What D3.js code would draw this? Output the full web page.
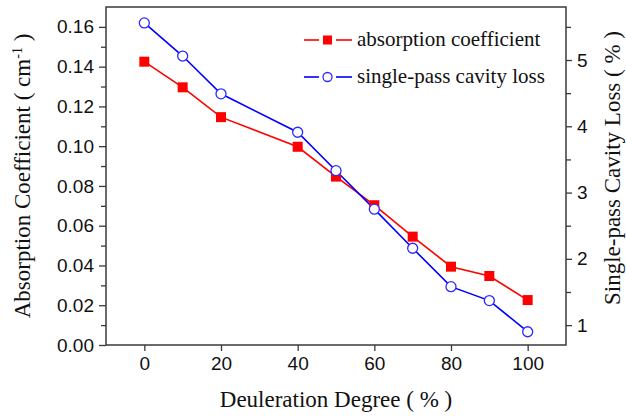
<!DOCTYPE html>
<html>
<head>
<meta charset="utf-8">
<script src="https://cdn.jsdelivr.net/npm/d3@7"></script>
<style>
  body { margin: 0; background: #fff; }
  svg { display: block; }
</style>
</head>
<body>
<div id="chart"></div>
<script>
// deuleration degree (%)
var degree = [0, 10, 20, 40, 50, 60, 70, 80, 90, 100]
// absorption coefficient (cm^-1), left axis
var absorption = [0.1425, 0.1296, 0.1146, 0.0997, 0.0847, 0.0703, 0.0545, 0.0394, 0.0347, 0.0226]
// single-pass cavity loss (%), right axis
var cavityLoss = [5.56, 5.06, 4.49, 3.91, 3.33, 2.75, 2.16, 1.58, 1.37, 0.90]
var xTicks = [0, 20, 40, 60, 80, 100]
var leftTicks = [0, 0.02, 0.04, 0.06, 0.08, 0.10, 0.12, 0.14, 0.16]
var rightTicks = [1, 2, 3, 4, 5]
var legendLabels = ['absorption coefficient', 'single-pass cavity loss']

var width = 626, height = 418
var m = {left: 106, right: 60, top: 7, bottom: 73}
var axisColor = '#3a3a3a'
var serif = '"Liberation Serif", "Times New Roman", serif'
var sans = '"Liberation Sans", Arial, sans-serif'

var svg = d3.select('#chart').append('svg').attr('width', width).attr('height', height)

var x = d3.scaleLinear().domain([-10, 110]).range([m.left, width - m.right])
var yL = d3.scaleLinear().domain([0, 0.17]).range([height - m.bottom, m.top])
var yR = d3.scaleLinear().domain([0.7, 5.8]).range([height - m.bottom, m.top])

var x0 = m.left, x1 = width - m.right, y0 = height - m.bottom, y1 = m.top

// minor ticks first so the major ones sit on top
var minorL = d3.range(0.01, 0.17, 0.02)
svg.append('g').attr('transform', `translate(${x0},0)`)
    .call(d3.axisLeft(yL).tickValues(minorL).tickSize(5).tickFormat(''))
var minorR = [1.5, 2.5, 3.5, 4.5, 5.5]
svg.append('g').attr('transform', `translate(${x1},0)`)
    .call(d3.axisRight(yR).tickValues(minorR).tickSize(5).tickFormat(''))

var gx = svg.append('g').attr('transform', `translate(0,${y0})`)
    .call(d3.axisBottom(x).tickValues(xTicks).tickSize(6).tickPadding(6).tickFormat(d3.format('d')))
var gl = svg.append('g').attr('transform', `translate(${x0},0)`)
    .call(d3.axisLeft(yL).tickValues(leftTicks).tickSize(7).tickPadding(5).tickFormat(d3.format('.2f')))
var gr = svg.append('g').attr('transform', `translate(${x1},0)`)
    .call(d3.axisRight(yR).tickValues(rightTicks).tickSize(6).tickPadding(5).tickFormat(d3.format('d')))

svg.selectAll('.domain').remove()
svg.selectAll('.tick line').attr('stroke', axisColor).attr('stroke-width', 1.3)
svg.selectAll('.tick text').attr('font-family', sans).attr('font-size', 19).attr('fill', '#111')

// frame
svg.append('rect').attr('x', x0).attr('y', y1).attr('width', x1 - x0).attr('height', y0 - y1)
    .attr('fill', 'none').attr('stroke', axisColor).attr('stroke-width', 1.5)

var lineL = d3.line().x(function(d, i){ return x(degree[i]) }).y(function(d){ return yL(d) })
var lineR = d3.line().x(function(d, i){ return x(degree[i]) }).y(function(d){ return yR(d) })

svg.append('path').attr('d', lineL(absorption)).attr('fill', 'none').attr('stroke', '#ff0000').attr('stroke-width', 1.6)
svg.append('path').attr('d', lineR(cavityLoss)).attr('fill', 'none').attr('stroke', '#0000ff').attr('stroke-width', 1.6)

var sq = 10
svg.selectAll('rect.sq').data(absorption).enter().append('rect').attr('class', 'sq')
    .attr('x', function(d, i){ return x(degree[i]) - sq / 2 })
    .attr('y', function(d){ return yL(d) - sq / 2 })
    .attr('width', sq).attr('height', sq).attr('fill', '#ff0000')
svg.selectAll('circle.ci').data(cavityLoss).enter().append('circle').attr('class', 'ci')
    .attr('cx', function(d, i){ return x(degree[i]) })
    .attr('cy', function(d){ return yR(d) })
    .attr('r', 5).attr('fill', '#fff').attr('stroke', '#2a2aff').attr('stroke-width', 1.3)

// legend
var leg = svg.append('g')
var ly = [40, 77]
var colors = ['#ff0000', '#0000ff']
legendLabels.forEach(function(lab, i){
    var g = leg.append('g').attr('transform', `translate(0,${ly[i]})`)
    g.append('line').attr('x1', 304).attr('x2', 319).attr('stroke', colors[i]).attr('stroke-width', 1.6)
    g.append('line').attr('x1', 336).attr('x2', 352).attr('stroke', colors[i]).attr('stroke-width', 1.6)
    if (i === 0){
        g.append('rect').attr('x', 323).attr('y', -4.5).attr('width', 9).attr('height', 9).attr('fill', colors[i])
    }
    else{
        g.append('circle').attr('cx', 327.5).attr('cy', 0).attr('r', 4.5).attr('fill', '#fff').attr('stroke', '#2a2aff').attr('stroke-width', 1.3)
    }
    g.append('text').attr('x', 357).attr('y', 6).attr('font-family', serif).attr('font-size', 21)
        .attr('fill', '#111').text(lab)
})

// axis titles
svg.append('text').attr('x', (x0 + x1) / 2).attr('y', 407).attr('text-anchor', 'middle')
    .attr('font-family', serif).attr('font-size', 23).attr('fill', '#111').text('Deuleration Degree ( % )')

var lt = svg.append('text').attr('transform', 'translate(30,176) rotate(-90)').attr('text-anchor', 'middle')
    .attr('font-family', serif).attr('font-size', 23).attr('fill', '#111')
lt.append('tspan').text('Absorption Coefficient ( cm')
lt.append('tspan').attr('dy', -8).attr('font-size', 14).text('-1')
lt.append('tspan').attr('dy', 8).text(' )')

svg.append('text').attr('transform', 'translate(620,168) rotate(-90)').attr('text-anchor', 'middle')
    .attr('font-family', serif).attr('font-size', 23).attr('fill', '#111').text('Single-pass Cavity Loss ( % )')
</script>
</body>
</html>
